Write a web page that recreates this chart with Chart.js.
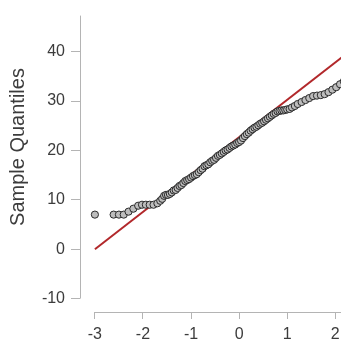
<!DOCTYPE html>
<html>
<head>
<meta charset="utf-8">
<script src="https://cdn.jsdelivr.net/npm/chart.js@4"></script>
<style>
  html, body { margin: 0; padding: 0; background: #fff; }
  #wrap { width: 346px; height: 342px; }
</style>
</head>
<body>
<div id="wrap"><canvas id="qqChart" width="346" height="342"></canvas></div>
<script>
// theoretical quantiles (x) and sample quantiles (y)
const theoretical = [-3.00, -2.61, -2.50, -2.40, -2.30, -2.20, -2.10, -2.02, -1.94, -1.86,
  -1.78, -1.70, -1.64,
  -1.60, -1.56, -1.52, -1.48, -1.44, -1.40, -1.36, -1.32, -1.28, -1.24,
  -1.20, -1.16, -1.12, -1.08, -1.04, -1.00, -0.96, -0.92, -0.88, -0.84,
  -0.80, -0.76, -0.72, -0.68, -0.64, -0.60, -0.56, -0.52, -0.48, -0.44,
  -0.40, -0.36, -0.32, -0.28, -0.24, -0.20, -0.16, -0.12, -0.08, -0.04,
  0.00, 0.04, 0.08, 0.12, 0.16, 0.20, 0.24, 0.28, 0.32, 0.36,
  0.40, 0.44, 0.48, 0.52, 0.56, 0.60, 0.64, 0.68, 0.72, 0.76,
  0.80, 0.84, 0.88, 0.92, 0.96, 1.00,
  1.05, 1.10, 1.16, 1.22, 1.30, 1.38, 1.46, 1.54, 1.62, 1.70,
  1.78, 1.86, 1.94, 2.02, 2.10, 2.18];
const sample = [7, 7, 7, 7, 7.6, 8.2, 8.8, 9, 9, 9,
  9, 9.3, 9.8,
  10.2, 10.8, 11, 11, 11.2, 11.5, 11.9, 12, 12.4, 12.8,
  13, 13.4, 13.8, 14, 14.2, 14.5, 14.8, 15, 15.2, 15.6,
  16, 16.3, 16.8, 17, 17.2, 17.6, 17.9, 18.1, 18.5, 18.9,
  19.1, 19.4, 19.7, 20, 20.2, 20.5, 20.8, 21, 21.2, 21.5,
  21.7, 22, 22.5, 22.9, 23.3, 23.6, 24, 24.3, 24.6, 24.8,
  25.1, 25.4, 25.6, 25.9, 26.2, 26.5, 26.8, 27.1, 27.4, 27.6,
  27.9, 28, 28.1, 28.1, 28.2, 28.3,
  28.4, 28.7, 29, 29.4, 29.8, 30.2, 30.6, 31, 31.1, 31.2,
  31.4, 31.8, 32.3, 32.8, 33.4, 34];
// reference line end points
const lineX = [-3, 2.2];
const lineY = [0, 39.3];
const xTicks = [-3, -2, -1, 0, 1, 2];
const yTicks = [-10, 0, 10, 20, 30, 40];
const yTitle = "Sample Quantiles";

const axisColor = "#b4b4b4";
const textColor = "#3c3c3c";
const fontFamily = "Liberation Sans, Arial";

const axisLines = {
  id: "axisLines",
  afterDraw(chart) {
    const c = chart.ctx, x = chart.scales.x, y = chart.scales.y, a = chart.chartArea;
    c.save();
    c.strokeStyle = axisColor;
    c.lineWidth = 1;
    c.beginPath();
    c.moveTo(a.left + 0.5, a.top);
    c.lineTo(a.left + 0.5, y.getPixelForValue(yTicks[0]));
    c.moveTo(x.getPixelForValue(xTicks[0]), a.bottom + 0.5);
    c.lineTo(a.right, a.bottom + 0.5);
    c.stroke();
    // y axis title, placed like the original
    c.translate(18, 147);
    c.rotate(-Math.PI / 2);
    c.fillStyle = textColor;
    c.font = "20px " + fontFamily;
    c.textAlign = "center";
    c.textBaseline = "middle";
    c.fillText(yTitle, 0, 0);
    c.restore();
  }
};

new Chart(document.getElementById("qqChart"), {
  type: "scatter",
  data: {
    datasets: [{
      data: theoretical.map((v, i) => ({ x: v, y: sample[i] })),
      pointRadius: 3.6,
      pointBackgroundColor: "#bdbdbd",
      pointBorderColor: "#2a2a2a",
      pointBorderWidth: 1,
      order: 1
    }, {
      type: "line",
      data: lineX.map((v, i) => ({ x: v, y: lineY[i] })),
      borderColor: "#b2282b",
      borderWidth: 2,
      pointRadius: 0,
      order: 2
    }]
  },
  options: {
    responsive: false,
    animation: false,
    layout: { padding: { top: 10, right: 0, left: 0, bottom: 0 } },
    plugins: { legend: { display: false }, tooltip: { enabled: false } },
    scales: {
      x: {
        type: "linear",
        min: -3.31,
        max: 2.12,
        afterBuildTicks: s => { s.ticks = xTicks.map(v => ({ value: v })); },
        afterFit: s => { s.height = 30; },
        border: { display: false },
        grid: { drawOnChartArea: false, drawTicks: true, tickLength: 7, color: axisColor },
        ticks: { color: textColor, padding: 6, font: { family: fontFamily, size: 16 } }
      },
      y: {
        min: -12.72,
        max: 47.3,
        afterBuildTicks: s => { s.ticks = yTicks.map(v => ({ value: v })); },
        afterFit: s => { s.width = 80; },
        border: { display: false },
        grid: { drawOnChartArea: false, drawTicks: true, tickLength: 9, color: axisColor },
        ticks: { color: textColor, padding: 6, font: { family: fontFamily, size: 16 } }
      }
    }
  },
  plugins: [axisLines]
});
</script>
</body>
</html>
